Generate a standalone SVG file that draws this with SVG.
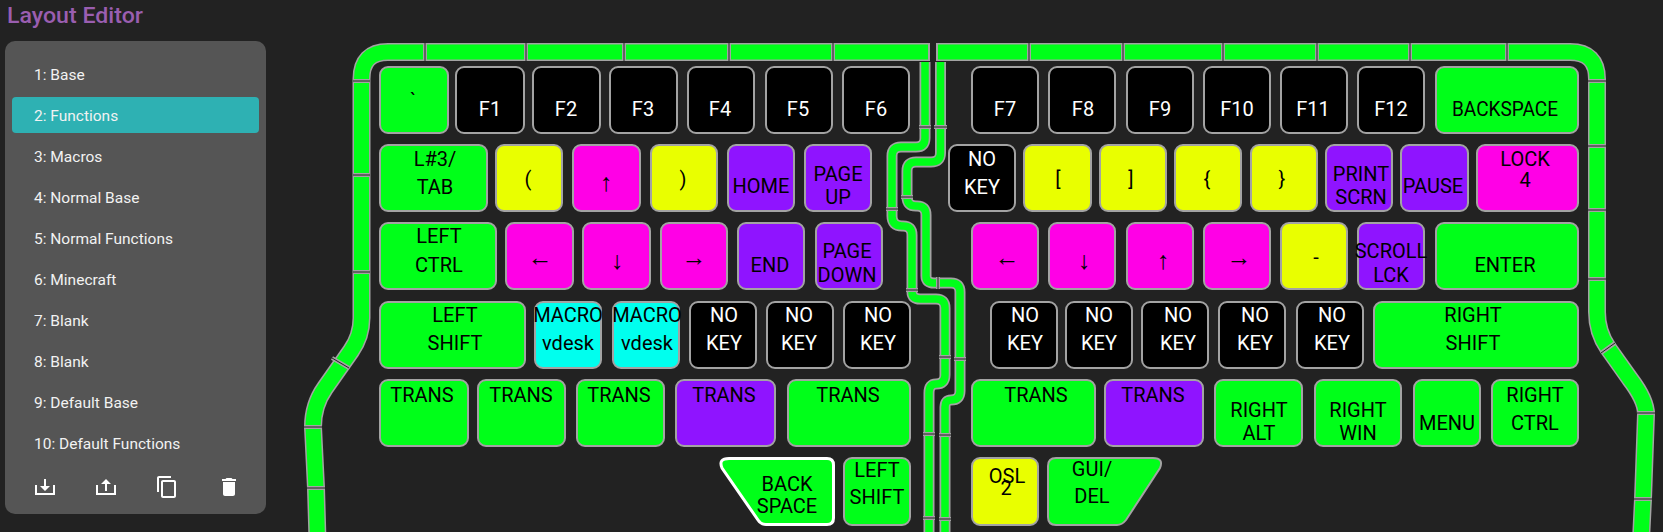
<svg xmlns="http://www.w3.org/2000/svg" width="1663" height="532" viewBox="0 0 1663 532">
<style>
text{font-family:Roboto,"Liberation Sans",sans-serif;font-size:20px;text-anchor:middle;fill:#000}
.w text,text.w{fill:#fff}
.k rect,.k path{stroke:#a3a3a3;stroke-width:2;rx:8px}
.g rect,.g path{fill:#00ff19}.y rect{fill:#e9ff00}.m rect{fill:#ff00e6}.p rect{fill:#8f14ff}.c rect{fill:#00ffee}.b rect{fill:#000}
text.a{font-family:"Liberation Sans",sans-serif;font-size:25px}
.menu text{font-size:15.5px;text-anchor:start;fill:#f2f2f2}
.ou{fill:none;stroke:#a3a3a3;stroke-width:18}.ug{fill:none;stroke:#00ff19;stroke-width:15}
.mu{fill:none;stroke:#a3a3a3;stroke-width:11}.mg{fill:none;stroke:#00ff19;stroke-width:7.500}
.s1{stroke:#a3a3a3;stroke-width:4}.s2{stroke:#222;stroke-width:1}
.cap{stroke:#a3a3a3;stroke-width:2}
.ic{fill:#fff}
</style>
<defs>
<path id="outerL" d="M930 52H388Q361.500 52 361.500 79V318Q361.500 336 351 351L325 388Q313 405 313 427L316 488L317.500 540"/>
<path id="outerR" d="M936 52H1570Q1597 52 1597 79V312Q1597 332 1608 348L1630 379Q1646 400 1646 414L1643 499L1641 540"/>
<path id="midA" d="M925 62V138Q925 147 916 147H901Q892 147 892 156V216Q892 226 902 226H903Q912 226 912 235V292Q912 299 920 299H936Q945 299 945 308V375Q945 384 936 384Q929 384 929 393V540"/>
<path id="midB" d="M940.500 62V153Q940.500 162 931 162H916Q907 162 907 171V197Q907 206 916 206H917Q926 206 926 215V276Q926 283 934 283H951Q960 283 960 292V391Q960 400 951 400Q945 400 945 407V540"/>
<g id="seps">
<path d="M353 81H370M353 175H370M353 272H370M332 358L349 368M304 427H322M307 488H325"/>
<path d="M425 43V61M526 43V61M624 43V61M729 43V61M833 43V61M1029 43V61M1123 43V61M1223 43V61M1317 43V61M1410 43V61M1507 43V61"/>
<path d="M1588 81H1606M1588 146H1606M1588 210H1606M1588 279H1606M1601 353L1615 343M1637 413H1655M1634 499H1652"/>
<path d="M919 127H931M934 127H947M886 209H898M901 197H913M906 290H918M938 277V289M939 357H951M954 359H966M923 434H935M939 435H951M923 518H935M939 519H951"/>
</g>
</defs>
<rect width="1663" height="532" fill="#222"/>
<text x="7" y="23" style="text-anchor:start;font-size:22px;font-weight:500;fill:#9a5eb0" textLength="136" lengthAdjust="spacingAndGlyphs">Layout Editor</text>
<g id="sidebar" class="menu">
<rect x="5" y="41" width="261" height="473" rx="10" fill="#555"/>
<rect x="12" y="97" width="247" height="36" rx="4" fill="#2eb1b3"/>
<text x="34" y="80">1: Base</text>
<text x="34" y="121">2: Functions</text>
<text x="34" y="162">3: Macros</text>
<text x="34" y="203">4: Normal Base</text>
<text x="34" y="244">5: Normal Functions</text>
<text x="34" y="285">6: Minecraft</text>
<text x="34" y="326">7: Blank</text>
<text x="34" y="367">8: Blank</text>
<text x="34" y="408">9: Default Base</text>
<text x="34" y="449">10: Default Functions</text>
<path class="ic" d="M35 485h2v8h16v-8h2v10H35zM44 479h2v7h4l-5 5-5-5h4z"/>
<path class="ic" d="M96 485h2v8h16v-8h2v10H96zM105 491h2v-7h4l-5-5-5 5h4z"/>
<path class="ic" transform="translate(155,475)" d="M16 1H4c-1.100 0-2 .9-2 2v14h2V3h12V1zm3 4H8c-1.100 0-2 .9-2 2v14c0 1.100.9 2 2 2h11c1.100 0 2-.9 2-2V7c0-1.100-.9-2-2-2zm0 16H8V7h11v14z"/>
<path class="ic" transform="translate(217,475)" d="M6 19c0 1.100.9 2 2 2h8c1.100 0 2-.9 2-2V7H6v12zM19 4h-3.500l-1-1h-5l-1 1H5v2h14V4z"/>
</g>
<g id="connectors">
<use href="#outerL" class="ou"/><use href="#outerL" class="ug"/>
<use href="#outerR" class="ou"/><use href="#outerR" class="ug"/>
<use href="#midA" class="mu"/><use href="#midA" class="mg"/>
<use href="#midB" class="mu"/><use href="#midB" class="mg"/>
<use href="#seps" class="s1"/><use href="#seps" class="s2"/>
<path class="cap" d="M929 43V61M937 43V61"/>
</g>
<g id="k-grave" class="k g"><rect x="380" y="67" width="68" height="66"/><text x="413" y="107">`</text></g>
<g id="k-f1" class="k b w"><rect x="456" y="67" width="68" height="66"/><text x="490" y="116">F1</text></g>
<g id="k-f2" class="k b w"><rect x="533" y="67" width="67" height="66"/><text x="566" y="116">F2</text></g>
<g id="k-f3" class="k b w"><rect x="610" y="67" width="67" height="66"/><text x="643" y="116">F3</text></g>
<g id="k-f4" class="k b w"><rect x="688" y="67" width="66" height="66"/><text x="720" y="116">F4</text></g>
<g id="k-f5" class="k b w"><rect x="766" y="67" width="66" height="66"/><text x="798" y="116">F5</text></g>
<g id="k-f6" class="k b w"><rect x="843" y="67" width="66" height="66"/><text x="876" y="116">F6</text></g>
<g id="k-f7" class="k b w"><rect x="972" y="67" width="66" height="66"/><text x="1005" y="116">F7</text></g>
<g id="k-f8" class="k b w"><rect x="1049" y="67" width="66" height="66"/><text x="1083" y="116">F8</text></g>
<g id="k-f9" class="k b w"><rect x="1127" y="67" width="66" height="66"/><text x="1160" y="116">F9</text></g>
<g id="k-f10" class="k b w"><rect x="1204" y="67" width="66" height="66"/><text x="1237" y="116">F10</text></g>
<g id="k-f11" class="k b w"><rect x="1281" y="67" width="66" height="66"/><text x="1313" y="116">F11</text></g>
<g id="k-f12" class="k b w"><rect x="1358" y="67" width="66" height="66"/><text x="1391" y="116">F12</text></g>
<g id="k-backspace" class="k g"><rect x="1436" y="67" width="142" height="66"/><text x="1505" y="116" textLength="106" lengthAdjust="spacingAndGlyphs">BACKSPACE</text></g>

<g id="k-tab" class="k g"><rect x="380" y="145" width="107" height="66"/><text x="435" y="166">L#3/</text><text x="435" y="194">TAB</text></g>
<g id="k-lparen" class="k y"><rect x="496" y="145" width="66" height="66"/><text x="528" y="186">(</text></g>
<g id="k-up" class="k m"><rect x="573" y="145" width="67" height="66"/><text class="a" x="606" y="191">↑</text></g>
<g id="k-rparen" class="k y"><rect x="651" y="145" width="66" height="66"/><text x="683" y="186">)</text></g>
<g id="k-home" class="k p"><rect x="728" y="145" width="66" height="66"/><text x="761" y="193">HOME</text></g>
<g id="k-pgup" class="k p"><rect x="805" y="145" width="66" height="66"/><text x="838" y="181">PAGE</text><text x="838" y="204">UP</text></g>
<g id="k-nokey0" class="k b w"><rect x="949" y="145" width="66" height="66"/><text x="982" y="166">NO</text><text x="982" y="194">KEY</text></g>
<g id="k-lbr" class="k y"><rect x="1024" y="145" width="67" height="66"/><text x="1058" y="186">[</text></g>
<g id="k-rbr" class="k y"><rect x="1100" y="145" width="66" height="66"/><text x="1131" y="186">]</text></g>
<g id="k-lcb" class="k y"><rect x="1175" y="145" width="66" height="66"/><text x="1207" y="186">{</text></g>
<g id="k-rcb" class="k y"><rect x="1251" y="145" width="66" height="66"/><text x="1282" y="186">}</text></g>
<g id="k-print" class="k p"><rect x="1326" y="145" width="66" height="66"/><text x="1361" y="181">PRINT</text><text x="1361" y="204">SCRN</text></g>
<g id="k-pause" class="k p"><rect x="1401" y="145" width="67" height="66"/><text x="1433" y="193">PAUSE</text></g>
<g id="k-lock" class="k m"><rect x="1477" y="145" width="101" height="66"/><text x="1525" y="166">LOCK</text><text x="1525" y="187">4</text></g>

<g id="k-lctrl" class="k g"><rect x="380" y="223" width="116" height="66"/><text x="439" y="243">LEFT</text><text x="439" y="272">CTRL</text></g>
<g id="k-left" class="k m"><rect x="506" y="223" width="67" height="66"/><text class="a" x="540" y="266">←</text></g>
<g id="k-down" class="k m"><rect x="583" y="223" width="67" height="66"/><text class="a" x="617" y="269">↓</text></g>
<g id="k-right" class="k m"><rect x="661" y="223" width="66" height="66"/><text class="a" x="694" y="266">→</text></g>
<g id="k-end" class="k p"><rect x="738" y="223" width="66" height="66"/><text x="770" y="272">END</text></g>
<g id="k-pgdn" class="k p"><rect x="816" y="223" width="66" height="66"/><text x="847" y="258">PAGE</text><text x="847" y="282">DOWN</text></g>
<g id="k-left2" class="k m"><rect x="972" y="223" width="66" height="66"/><text class="a" x="1007" y="266">←</text></g>
<g id="k-down2" class="k m"><rect x="1049" y="223" width="66" height="66"/><text class="a" x="1084" y="269">↓</text></g>
<g id="k-up2" class="k m"><rect x="1127" y="223" width="66" height="66"/><text class="a" x="1163" y="269">↑</text></g>
<g id="k-right2" class="k m"><rect x="1204" y="223" width="66" height="66"/><text class="a" x="1239" y="266">→</text></g>
<g id="k-minus" class="k y"><rect x="1281" y="223" width="66" height="66"/><text x="1316" y="264">-</text></g>
<g id="k-scroll" class="k p"><rect x="1358" y="223" width="66" height="66"/><text x="1391" y="258">SCROLL</text><text x="1391" y="282">LCK</text></g>
<g id="k-enter" class="k g"><rect x="1436" y="223" width="142" height="66"/><text x="1505" y="272">ENTER</text></g>

<g id="k-lshift" class="k g"><rect x="380" y="302" width="145" height="66"/><text x="455" y="322">LEFT</text><text x="455" y="350">SHIFT</text></g>
<g id="k-macro1" class="k c"><rect x="535" y="302" width="66" height="66"/><text x="568" y="322">MACRO</text><text x="568" y="350">vdesk</text></g>
<g id="k-macro2" class="k c"><rect x="613" y="302" width="66" height="66"/><text x="647" y="322">MACRO</text><text x="647" y="350">vdesk</text></g>
<g id="k-nokey1" class="k b w"><rect x="690" y="302" width="66" height="66"/><text x="724" y="322">NO</text><text x="724" y="350">KEY</text></g>
<g id="k-nokey2" class="k b w"><rect x="767" y="302" width="66" height="66"/><text x="799" y="322">NO</text><text x="799" y="350">KEY</text></g>
<g id="k-nokey3" class="k b w"><rect x="844" y="302" width="66" height="66"/><text x="878" y="322">NO</text><text x="878" y="350">KEY</text></g>
<g id="k-nokey4" class="k b w"><rect x="991" y="302" width="66" height="66"/><text x="1025" y="322">NO</text><text x="1025" y="350">KEY</text></g>
<g id="k-nokey5" class="k b w"><rect x="1066" y="302" width="66" height="66"/><text x="1099" y="322">NO</text><text x="1099" y="350">KEY</text></g>
<g id="k-nokey6" class="k b w"><rect x="1142" y="302" width="66" height="66"/><text x="1178" y="322">NO</text><text x="1178" y="350">KEY</text></g>
<g id="k-nokey7" class="k b w"><rect x="1219" y="302" width="66" height="66"/><text x="1255" y="322">NO</text><text x="1255" y="350">KEY</text></g>
<g id="k-nokey8" class="k b w"><rect x="1297" y="302" width="66" height="66"/><text x="1332" y="322">NO</text><text x="1332" y="350">KEY</text></g>
<g id="k-rshift" class="k g"><rect x="1374" y="302" width="204" height="66"/><text x="1473" y="322">RIGHT</text><text x="1473" y="350">SHIFT</text></g>

<g id="k-t1" class="k g"><rect x="380" y="380" width="88" height="66"/><text x="422" y="402">TRANS</text></g>
<g id="k-t2" class="k g"><rect x="478" y="380" width="87" height="66"/><text x="521" y="402">TRANS</text></g>
<g id="k-t3" class="k g"><rect x="577" y="380" width="87" height="66"/><text x="619" y="402">TRANS</text></g>
<g id="k-t4" class="k p"><rect x="676" y="380" width="99" height="66"/><text x="724" y="402">TRANS</text></g>
<g id="k-t5" class="k g"><rect x="788" y="380" width="122" height="66"/><text x="848" y="402">TRANS</text></g>
<g id="k-t6" class="k g"><rect x="972" y="380" width="123" height="66"/><text x="1036" y="402">TRANS</text></g>
<g id="k-t7" class="k p"><rect x="1105" y="380" width="98" height="66"/><text x="1153" y="402">TRANS</text></g>
<g id="k-ralt" class="k g"><rect x="1215" y="380" width="87" height="66"/><text x="1259" y="417">RIGHT</text><text x="1259" y="440">ALT</text></g>
<g id="k-rwin" class="k g"><rect x="1315" y="380" width="86" height="66"/><text x="1358" y="417">RIGHT</text><text x="1358" y="440">WIN</text></g>
<g id="k-menu" class="k g"><rect x="1414" y="380" width="66" height="66"/><text x="1447" y="430">MENU</text></g>
<g id="k-rctrl" class="k g"><rect x="1492" y="380" width="86" height="66"/><text x="1535" y="402">RIGHT</text><text x="1535" y="430">CTRL</text></g>

<g id="k-bksp" class="k g"><path style="stroke:#fff;stroke-width:3" d="M729 458.500H827Q833.500 458.500 833.500 465V518Q833.500 524.500 827 524.500H766Q761 524.500 758 520L722 468Q718 458.500 729 458.500Z"/><text x="787" y="491">BACK</text><text x="787" y="513">SPACE</text></g>
<g id="k-lshift2" class="k g"><rect x="844" y="458" width="66" height="67"/><text x="877" y="477">LEFT</text><text x="877" y="504">SHIFT</text></g>
<g id="k-osl" class="k y"><rect x="972" y="458" width="66" height="67"/><text x="1007" y="483">OSL</text><text x="1006" y="495">2</text></g>
<g id="k-gui" class="k g"><path d="M1056 458H1153Q1164 458 1160 468L1126 520Q1122 525 1117 525H1056Q1048 525 1048 517V466Q1048 458 1056 458Z"/><text x="1092" y="476">GUI/</text><text x="1092" y="503">DEL</text></g>
</svg>
